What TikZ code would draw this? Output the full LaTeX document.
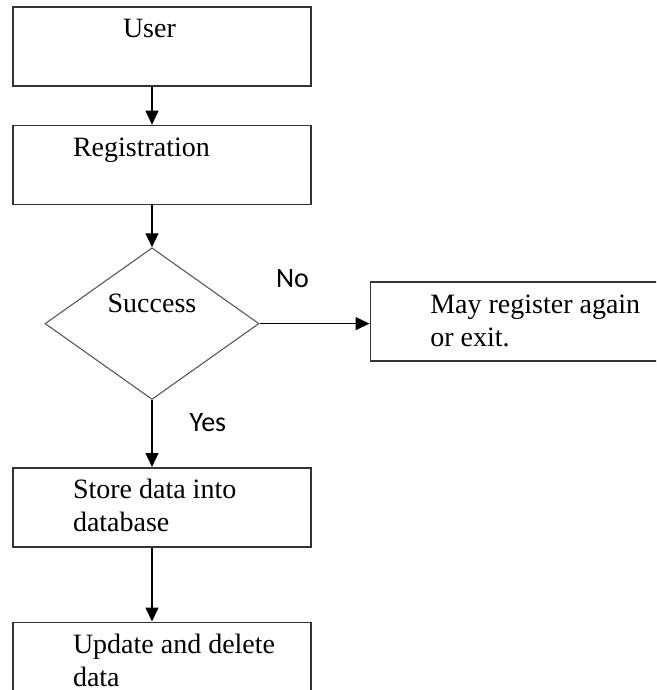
\documentclass[tikz,border=0pt]{standalone}
\usepackage{fontspec}
\setmainfont{Liberation Serif}
\newfontfamily\answerfont{Carlito}
\usetikzlibrary{positioning,shapes.geometric,arrows.meta}
\begin{document}
\begin{tikzpicture}[x=1pt,y=-1pt]
    \tikzstyle{stepbox} = [draw=black!80, line width=1.5pt, minimum width=298pt, minimum height=79pt,
      text width=298pt, inner xsep=0pt, inner ysep=0pt, align=left, text height=31pt, text depth=48pt,
      font=\fontsize{28pt}{33pt}\selectfont,
      execute at begin node={\leftskip=60pt\rightskip=0pt plus 1fil\spaceskip=7pt\xspaceskip=7pt}]
    \tikzstyle{decision} = [diamond, draw=black!65, line width=1.1pt, minimum width=214pt, minimum height=149pt,
      inner sep=0pt, text height=20pt, text depth=43pt, font=\fontsize{28pt}{33pt}\selectfont]
    \tikzstyle{answer} = [inner sep=0pt, font=\answerfont\fontsize{28pt}{33pt}\selectfont]
    \tikzstyle{flow} = [line width=1.3pt, -{Triangle[width=13pt,length=14pt]}]
    \useasboundingbox (0,0) rectangle (656,690);
    \clip (0,0) rectangle (656,690);
    \node[stepbox, execute at begin node={\leftskip=110pt}] (user) at (162,46.5) {User};
    \node[stepbox, below=38pt of user] (reg) {Registration};
    \node[decision, below=42pt of reg, xshift=-10pt] (succ) {Success};
    \node[stepbox, right=110pt of succ, yshift=2pt] (msg) {May register again\\or exit.};
    \node[stepbox, below=67pt of succ, xshift=10pt] (store) {Store data into\\database};
    \node[stepbox, below=74pt of store] (upd) {Update and delete\\data};
    \draw[flow] (user.south -| succ.north) -- (reg.north -| succ.north);
    \draw[flow] (reg.south -| succ.north) -- (succ.north);
    \draw[flow] (succ.east) -- node[answer, above=35pt, pos=0.3] {No} (succ.east -| msg.west);
    \draw[flow] (succ.south) -- node[answer, right=37pt, pos=0.34] {Yes} (store.north -| succ.south);
    \draw[flow] (store.south -| succ.south) -- (upd.north -| succ.south);
\end{tikzpicture}
\end{document}
